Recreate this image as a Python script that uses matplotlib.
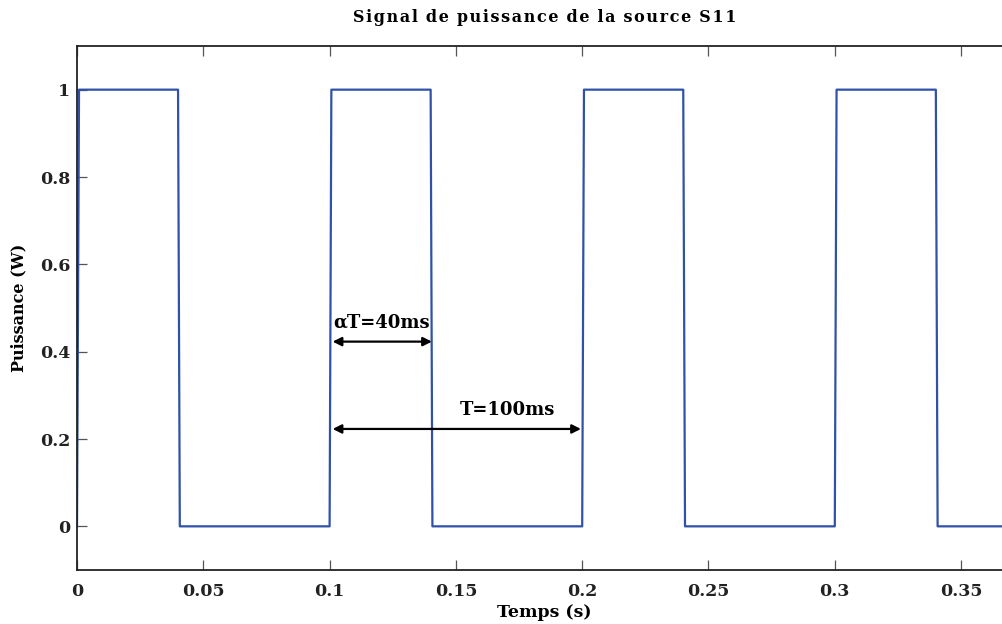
import numpy as np
import matplotlib.pyplot as plt

# signal points (time in s, power in W)
t = [0, 0.0008, 0.04, 0.0407, 0.1, 0.1007, 0.14, 0.1407, 0.2, 0.2007,
     0.24, 0.2407, 0.3, 0.3007, 0.34, 0.3407, 0.372]
p = [0, 1, 1, 0, 0, 1, 1, 0, 0, 1, 1, 0, 0, 1, 1, 0, 0]

xticks = [0, 0.05, 0.1, 0.15, 0.2, 0.25, 0.3, 0.35]
xtick_labels = ['0', '0.05', '0.1', '0.15', '0.2', '0.25', '0.3', '0.35']
yticks = [0, 0.2, 0.4, 0.6, 0.8, 1]
ytick_labels = ['0', '0.2', '0.4', '0.6', '0.8', '1']

plt.rcParams['font.family'] = ['DejaVu Serif']
plt.rcParams['font.weight'] = 'bold'

fig = plt.figure(figsize=(10.03, 6.24), dpi=100)
# axes run a little past the right edge, the right spine is cropped off
ax = fig.add_axes([77 / 1003, 1 - 570 / 624, 935 / 1003, 524 / 624])

ax.plot(t, p, color='#2f52a8', lw=1.6)

ax.set_xlim(0, 935 / 2526)
ax.set_ylim(-0.1, 1.1)
ax.set_xticks(xticks)
ax.set_xticklabels(xtick_labels, fontsize=12.5, fontweight='bold', color='#222222')
ax.set_yticks(yticks)
ax.set_yticklabels(ytick_labels, fontsize=12.5, fontweight='bold', color='#222222')
ax.tick_params(direction='in', length=7, width=0.9, color='#555555',
               top=True, right=True)
ax.tick_params(axis='x', pad=9)
ax.tick_params(axis='y', pad=5)

for s in ax.spines.values():
    s.set_linewidth(1.3)
    s.set_color('#222222')

ax.set_title('S i g n a l  d e  p u i s s a n c e  d e  l a  s o u r c e  S 1 1'.replace('  ', '\u2002').replace(' ', '\u200a'),
             fontsize=11.5, fontweight='bold', pad=17)
ax.set_xlabel('Temps (s)', fontsize=12.5, fontweight='bold', labelpad=3)
ax.set_ylabel('Puissance (W)', fontsize=11.5, fontweight='bold', labelpad=9)

# duty cycle and period arrows
ax.annotate('', xy=(0.1012, 0.423), xytext=(0.1405, 0.423),
            arrowprops=dict(arrowstyle='<|-|>', color='black', lw=1.6,
                            mutation_scale=13, shrinkA=0, shrinkB=0))
ax.text(0.1015, 0.445, '\u03b1T=40ms', fontsize=13, fontweight='bold', ha='left', va='bottom')
ax.annotate('', xy=(0.1012, 0.223), xytext=(0.1995, 0.223),
            arrowprops=dict(arrowstyle='<|-|>', color='black', lw=1.6,
                            mutation_scale=13, shrinkA=0, shrinkB=0))
ax.text(0.1515, 0.245, 'T=100ms', fontsize=13, fontweight='bold', ha='left', va='bottom')

fig.savefig('out.png', dpi=100)
